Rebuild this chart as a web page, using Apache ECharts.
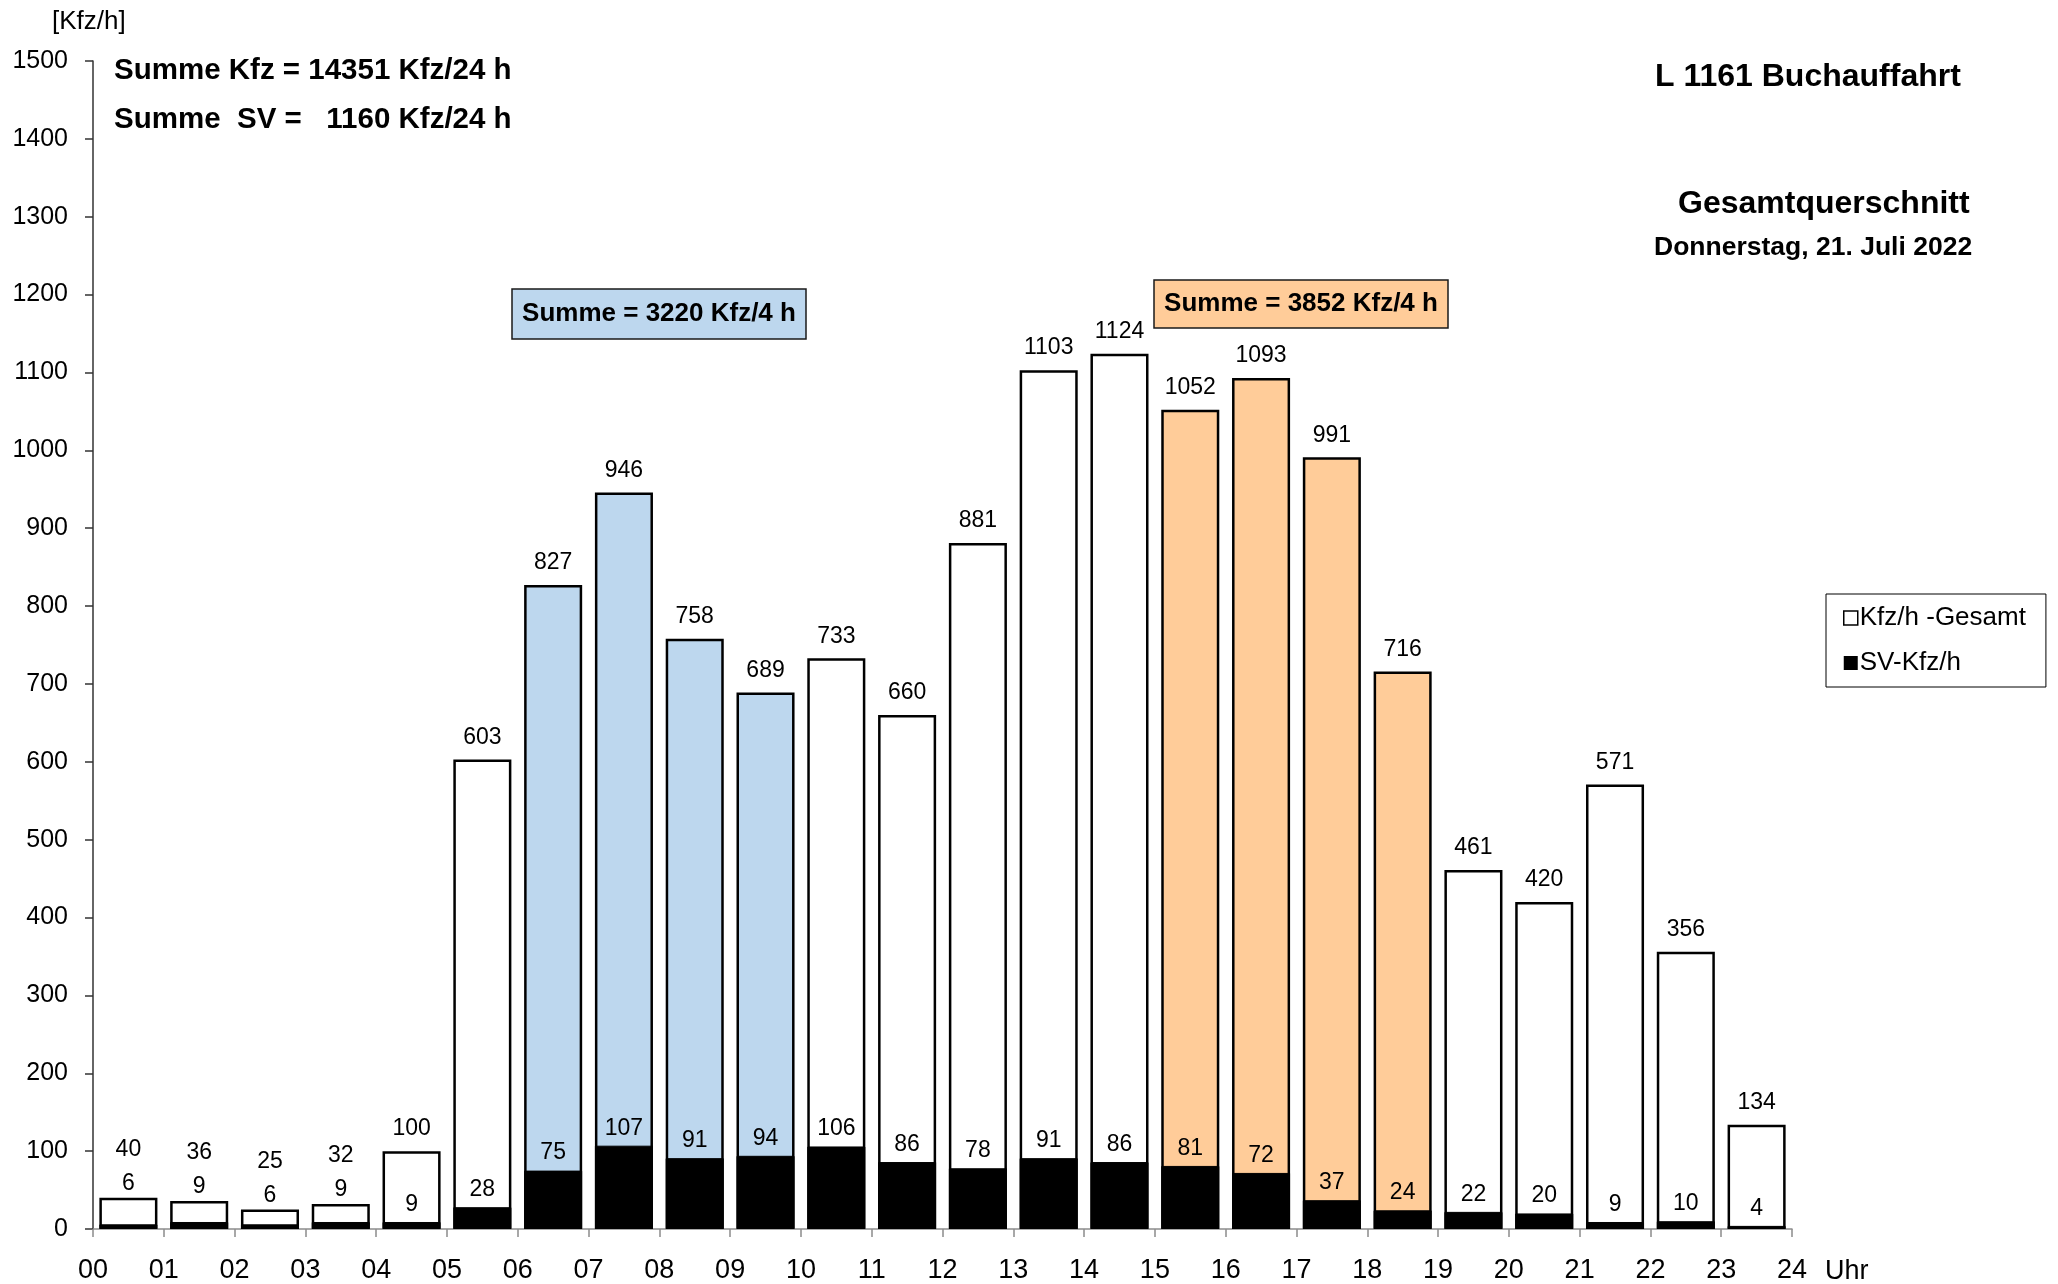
<!DOCTYPE html>
<html>
<head>
<meta charset="utf-8">
<script src="https://cdn.jsdelivr.net/npm/echarts@6/dist/echarts.min.js"></script>
<style>
  html, body { margin: 0; padding: 0; background: #fff; }
  #chart { width: 2058px; height: 1284px; }
</style>
</head>
<body>
<div id="chart"></div>
<script>
// Hourly traffic counts, 00–24 Uhr
const hours = ['00','01','02','03','04','05','06','07','08','09','10','11',
               '12','13','14','15','16','17','18','19','20','21','22','23'];
const kfzTotal = [40, 36, 25, 32, 100, 603, 827, 946, 758, 689, 733, 660,
                  881, 1103, 1124, 1052, 1093, 991, 716, 461, 420, 571, 356, 134];
const svKfz = [6, 9, 6, 9, 9, 28, 75, 107, 91, 94, 106, 86,
               78, 91, 86, 81, 72, 37, 24, 22, 20, 9, 10, 4];
const morningPeak = [6, 7, 8, 9];
const eveningPeak = [15, 16, 17, 18];
const yTicks = { min: 0, max: 1500, step: 100 };
const xTicks = { min: 0, max: 24, step: 1 };

const FONT = 'Liberation Sans';
const BLUE = '#BDD7EE';
const ORANGE = '#FFCC99';

const sumAll = kfzTotal.reduce((a, b) => a + b, 0);
const sumSV = svKfz.reduce((a, b) => a + b, 0);
const sumMorning = morningPeak.reduce((a, i) => a + kfzTotal[i], 0);
const sumEvening = eveningPeak.reduce((a, i) => a + kfzTotal[i], 0);

// the smallest night bars carry both numbers stacked above the bar
const stackedLabelCount = 4;

function fillFor(i) {
  if (morningPeak.includes(i)) return BLUE;
  if (eveningPeak.includes(i)) return ORANGE;
  return '#FFFFFF';
}

const totalData = kfzTotal.map((v, i) => ({
  value: v,
  itemStyle: { color: fillFor(i) },
  label: { distance: i < stackedLabelCount ? -3 : 5 }
}));
const svData = svKfz.map((v, i) => ({
  value: v,
  label: { show: i >= stackedLabelCount }
}));

const chart = echarts.init(document.getElementById('chart'));

const GRID = { left: 93, right: 266, top: 61, bottom: 54 };

function box(x, y, w, h, fill, text) {
  return {
    type: 'group',
    children: [
      { type: 'rect', shape: { x: x, y: y, width: w, height: h },
        style: { fill: fill, stroke: '#1a1a1a', lineWidth: 1.5 } },
      { type: 'text', x: x + w / 2, y: y + h / 2,
        style: { text: text, fill: '#000', font: 'bold 26px ' + FONT,
                 textAlign: 'center', textVerticalAlign: 'middle' } }
    ]
  };
}

chart.setOption({
  animation: false,
  backgroundColor: '#fff',
  textStyle: { fontFamily: FONT },
  grid: GRID,
  legend: {
    orient: 'vertical',
    left: 1826,
    top: 594,
    padding: [11, 20, 11, 17],
    itemGap: 19,
    itemWidth: 14,
    itemHeight: 14,
    borderColor: '#000',
    borderWidth: 1,
    backgroundColor: '#fff',
    icon: 'rect',
    itemStyle: { borderColor: '#000', borderWidth: 1.5 },
    textStyle: { fontSize: 26, color: '#000', fontFamily: FONT, padding: [0, 0, 0, -3] },
    data: [
      { name: 'Kfz/h -Gesamt', itemStyle: { color: '#fff', borderColor: '#000', borderWidth: 1.5 } },
      { name: 'SV-Kfz/h', itemStyle: { color: '#000', borderColor: '#000', borderWidth: 0 } }
    ]
  },
  xAxis: [
    {
      type: 'category',
      data: hours,
      axisLine: { show: true, lineStyle: { color: '#8c8c8c', width: 1.5 } },
      axisTick: { show: false },
      axisLabel: { show: false },
      splitLine: { show: false }
    },
    {
      type: 'value',
      position: 'bottom',
      min: xTicks.min,
      max: xTicks.max,
      interval: xTicks.step,
      axisLine: { show: false },
      axisTick: { show: true, length: 8, lineStyle: { color: '#8c8c8c', width: 1.5 } },
      axisLabel: {
        margin: 28, fontSize: 27, color: '#000', fontFamily: FONT,
        formatter: v => String(v).padStart(2, '0')
      },
      splitLine: { show: false }
    }
  ],
  yAxis: {
    type: 'value',
    min: yTicks.min,
    max: yTicks.max,
    interval: yTicks.step,
    axisLine: { show: true, lineStyle: { color: '#333', width: 1.5 } },
    axisTick: { show: true, inside: false, length: 8, lineStyle: { color: '#333', width: 1.5 } },
    axisLabel: { margin: 25, fontSize: 25, color: '#000', fontFamily: FONT,
                 formatter: v => String(v) },
    splitLine: { show: false }
  },
  series: [
    {
      name: 'Kfz/h -Gesamt',
      type: 'bar',
      xAxisIndex: 0,
      barCategoryGap: '18%',
      barGap: '-100%',
      data: totalData,
      itemStyle: { borderColor: '#000', borderWidth: 2.5, color: '#fff' },
      label: {
        show: true,
        position: 'top',
        fontSize: 23,
        lineHeight: 34,
        color: '#000',
        fontFamily: FONT,
        formatter: p => p.dataIndex < stackedLabelCount
          ? kfzTotal[p.dataIndex] + '\n' + svKfz[p.dataIndex]
          : String(kfzTotal[p.dataIndex])
      }
    },
    {
      name: 'SV-Kfz/h',
      type: 'bar',
      xAxisIndex: 0,
      barCategoryGap: '18%',
      barGap: '-100%',
      data: svData,
      itemStyle: { color: '#000', borderColor: '#000', borderWidth: 1 },
      label: {
        position: 'top',
        distance: 6,
        fontSize: 23,
        color: '#000',
        fontFamily: FONT
      }
    }
  ],
  graphic: [
    { type: 'text', left: 52, top: 9,
      style: { text: '[Kfz/h]', font: '26px ' + FONT, fill: '#000' } },
    { type: 'text', left: 114, top: 56,
      style: { text: 'Summe Kfz = ' + sumAll + ' Kfz/24 h', font: 'bold 29.5px ' + FONT, fill: '#000' } },
    { type: 'text', left: 114, top: 105,
      style: { text: 'Summe  SV =   ' + sumSV + ' Kfz/24 h', font: 'bold 29.5px ' + FONT, fill: '#000' } },
    { type: 'text', left: 1655, top: 61,
      style: { text: 'L 1161 Buchauffahrt', font: 'bold 32px ' + FONT, fill: '#000' } },
    { type: 'text', left: 1678, top: 188,
      style: { text: 'Gesamtquerschnitt', font: 'bold 32px ' + FONT, fill: '#000' } },
    { type: 'text', left: 1654, top: 234,
      style: { text: 'Donnerstag, 21. Juli 2022', font: 'bold 26.5px ' + FONT, fill: '#000' } },
    box(512, 289, 294, 50, BLUE, 'Summe = ' + sumMorning + ' Kfz/4 h'),
    box(1154, 280, 294, 48, ORANGE, 'Summe = ' + sumEvening + ' Kfz/4 h'),
    { type: 'text', left: 1825, top: 1258,
      style: { text: 'Uhr', font: '27px ' + FONT, fill: '#000' } }
  ]
});
</script>
</body>
</html>
